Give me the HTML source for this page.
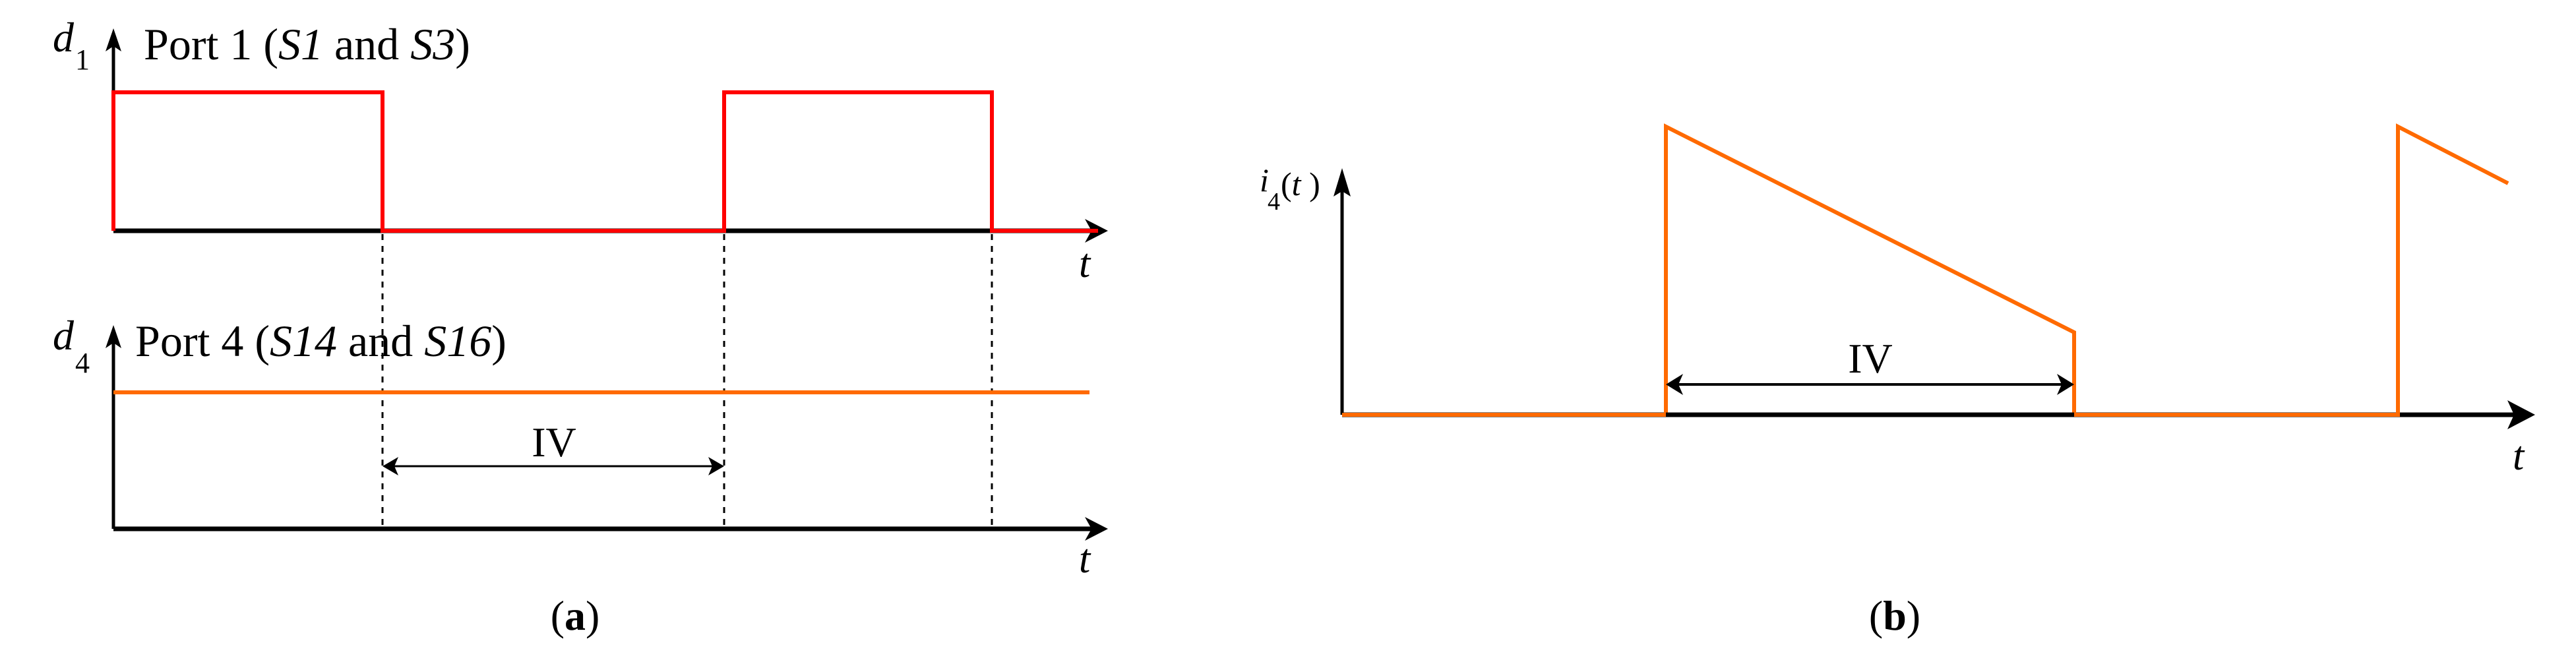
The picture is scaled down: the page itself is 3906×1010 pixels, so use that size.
<!DOCTYPE html>
<html><head><style>html,body{margin:0;padding:0;background:#fff}svg{display:block}</style></head>
<body>
<svg width="3906" height="1010" viewBox="0 0 3906 1010" xmlns="http://www.w3.org/2000/svg" font-family="Liberation Serif, serif">
<!-- (a) top -->
<line x1="172" y1="350" x2="1660" y2="350" stroke="#000" stroke-width="7"/>
<polygon points="1680,350 1645,332 1655,350 1645,368" fill="#000"/>
<line x1="172" y1="350" x2="172" y2="70" stroke="#000" stroke-width="5"/>
<polygon points="172,43 160,78 172,70 184,78" fill="#000"/>
<polyline points="172,350 172,140 580,140 580,350 1098,350 1098,140 1504,140 1504,350 1665,350" fill="none" stroke="#ff0000" stroke-width="6"/>
<text x="80" y="78" font-size="64" font-style="italic">d</text>
<text x="114" y="105" font-size="44">1</text>
<text x="218" y="90" font-size="68">Port 1 (<tspan font-style="italic">S1</tspan> and <tspan font-style="italic">S3</tspan>)</text>
<text x="1636" y="420" font-size="62" font-style="italic">t</text>
<!-- dotted -->
<g stroke="#000" stroke-width="3" stroke-dasharray="9,9">
<line x1="580" y1="355" x2="580" y2="800"/>
<line x1="1098" y1="355" x2="1098" y2="800"/>
<line x1="1504" y1="355" x2="1504" y2="800"/>
</g>
<!-- (a) bottom -->
<line x1="172" y1="802" x2="1660" y2="802" stroke="#000" stroke-width="7"/>
<polygon points="1680,802 1645,784 1655,802 1645,820" fill="#000"/>
<line x1="172" y1="802" x2="172" y2="520" stroke="#000" stroke-width="5"/>
<polygon points="172,493 160,528 172,520 184,528" fill="#000"/>
<line x1="172" y1="595" x2="1652" y2="595" stroke="#ff6a00" stroke-width="6"/>
<text x="80" y="530" font-size="64" font-style="italic">d</text>
<text x="114" y="565" font-size="44">4</text>
<text x="205" y="540" font-size="68">Port 4 (<tspan font-style="italic">S14</tspan> and <tspan font-style="italic">S16</tspan>)</text>
<text x="1636" y="868" font-size="62" font-style="italic">t</text>
<line x1="590" y1="707" x2="1088" y2="707" stroke="#000" stroke-width="3"/>
<polygon points="580,707 604,693 598,707 604,721" fill="#000"/>
<polygon points="1098,707 1074,693 1080,707 1074,721" fill="#000"/>
<text x="840" y="692" font-size="64" text-anchor="middle">IV</text>
<text x="872" y="955" font-size="64" text-anchor="middle">(<tspan font-weight="bold">a</tspan>)</text>
<!-- (b) -->
<line x1="2035" y1="629" x2="3820" y2="629" stroke="#000" stroke-width="7"/>
<polygon points="3844,629 3802,607 3812,629 3802,651" fill="#000"/>
<line x1="2035" y1="629" x2="2035" y2="285" stroke="#000" stroke-width="5"/>
<polygon points="2035,255 2022,298 2035,290 2048,298" fill="#000"/>
<polyline points="2035,629 2526,629 2526,192 3145,504 3145,629 3636,629 3636,192 3803,278" fill="none" stroke="#ff6a00" stroke-width="6"/>
<line x1="2526" y1="629" x2="3145" y2="629" stroke="#000" stroke-width="7"/>
<line x1="2536" y1="583" x2="3135" y2="583" stroke="#000" stroke-width="4"/>
<polygon points="2526,583 2552,567 2545,583 2552,599" fill="#000"/>
<polygon points="3145,583 3119,567 3126,583 3119,599" fill="#000"/>
<text x="2836" y="565" font-size="64" text-anchor="middle">IV</text>
<text x="1910" y="290" font-size="50" font-style="italic">i</text>
<text x="1922" y="318" font-size="38">4</text>
<text x="1942" y="296" font-size="50">(<tspan font-style="italic">t</tspan> )</text>
<text x="3810" y="712" font-size="62" font-style="italic">t</text>
<text x="2873" y="955" font-size="64" text-anchor="middle">(<tspan font-weight="bold">b</tspan>)</text>
</svg>
</body></html>
